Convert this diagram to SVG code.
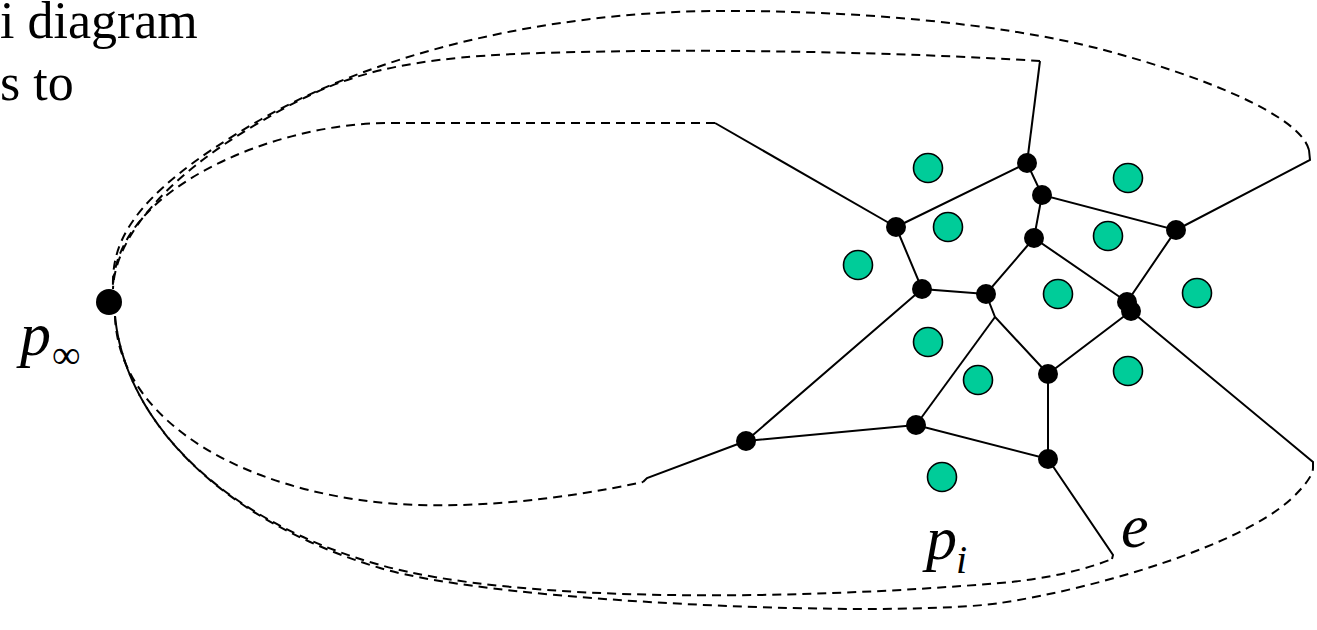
<svg xmlns="http://www.w3.org/2000/svg" width="1317" height="630" viewBox="0 0 1317 630">
<style>
text{font-family:'Liberation Serif','Times New Roman','DejaVu Serif',serif;fill:#000}
.it{font-style:italic}
.e{fill:none;stroke:#000;stroke-width:2;stroke-linejoin:miter}
.d{fill:none;stroke:#000;stroke-width:2;stroke-dasharray:9 6}
.v{fill:#000}
.s{fill:#00CC99;stroke:#000;stroke-width:1.6}
</style>
<rect width="1317" height="630" fill="#fff"/>
<g id="title">
<text x="0" y="38" font-size="52" font-family="Liberation Serif, serif">i diagram</text>
<text x="0" y="100" font-size="52" font-family="Liberation Serif, serif">s to</text>
</g>
<g id="connectors">
<path class="d" d="M1309,150 C1300,115 1200,75 1100,49 C1000,23 850,10 715,11 C580,12 400,40 260,120 C120,200 112,250 113,289"/>
<path class="d" d="M1040,61 C900,52 700,48 540,53 C380,58 330,80 250,128 C170,176 115,235 113,289"/>
<path class="d" d="M715,123 L390,123 C300,123 200,160 150,210 C125,235 113,262 113,289"/>
<path class="d" d="M115,316 C118,410 220,480 360,500 C450,513 560,500 643,482"/>
<path class="d" d="M115,316 C125,420 220,520 380,565 C520,604 800,600 1000,583 C1050,579 1090,568 1112,559"/>
<path class="d" style="stroke-dashoffset:7.5" d="M115,316 C125,420 220,520 380,568 C500,604 900,618 1000,603 C1100,588 1240,545 1290,500 C1305,486 1313,475 1313,468"/>
<path class="e" d="M896,227 L715,123"/>
<path class="e" d="M1027,163 L1040,61"/>
<path class="e" d="M1176,230 L1310,160 L1309,150"/>
<path class="e" d="M1131,311 L1313,462 L1313,468"/>
<path class="e" d="M1048,459 L1113,555 L1112,559"/>
<path class="e" d="M746,441 L647,478 L643,482"/>
<path class="e" d="M896,227 L1027,163 L1042,195 L1176,230 L1127,302"/>
<path class="e" d="M1042,195 L1034,238 L1127,302"/>
<path class="e" d="M1034,238 L986,294 L922,289 L896,227"/>
<path class="e" d="M922,289 L746,441 L916,425 L1048,459 L1048,374 L1131,311"/>
<path class="e" d="M986,294 L995,317 L1048,374"/>
<path class="e" d="M995,317 L916,425"/>
</g>
<g id="sites">
<circle class="s" cx="928" cy="168" r="14.5"/>
<circle class="s" cx="1128" cy="178" r="14.5"/>
<circle class="s" cx="948" cy="227" r="14.5"/>
<circle class="s" cx="1108" cy="236" r="14.5"/>
<circle class="s" cx="858" cy="265" r="14.5"/>
<circle class="s" cx="1058" cy="294" r="14.5"/>
<circle class="s" cx="1197" cy="293" r="14.5"/>
<circle class="s" cx="928" cy="342" r="14.5"/>
<circle class="s" cx="978" cy="380" r="14.5"/>
<circle class="s" cx="1128" cy="371" r="14.5"/>
<circle class="s" cx="942" cy="477" r="14.5"/>
</g>
<g id="vertices">
<circle class="v" cx="1027" cy="163" r="10"/>
<circle class="v" cx="1042" cy="195" r="10"/>
<circle class="v" cx="896" cy="227" r="10"/>
<circle class="v" cx="1034" cy="238" r="10"/>
<circle class="v" cx="1176" cy="230" r="10"/>
<circle class="v" cx="922" cy="289" r="10"/>
<circle class="v" cx="986" cy="294" r="10"/>
<circle class="v" cx="1127" cy="302" r="10"/>
<circle class="v" cx="1131" cy="311" r="10"/>
<circle class="v" cx="1048" cy="374" r="10"/>
<circle class="v" cx="916" cy="425" r="10"/>
<circle class="v" cx="746" cy="441" r="10"/>
<circle class="v" cx="1048" cy="459" r="10"/>
</g>
<g id="p-inf">
<circle class="v" cx="109" cy="302" r="13"/>
<text class="it" x="20" y="355" font-size="62" font-family="Liberation Serif, serif">p</text>
<text x="52" y="368" font-size="40" font-family="Liberation Serif, serif">∞</text>
</g>
<g id="labels">
<text class="it" x="926" y="559" font-size="62" font-family="Liberation Serif, serif">p</text>
<text class="it" x="956" y="573" font-size="40" font-family="Liberation Serif, serif">i</text>
<text class="it" x="1121" y="547" font-size="62" font-family="Liberation Serif, serif">e</text>
</g>
</svg>
